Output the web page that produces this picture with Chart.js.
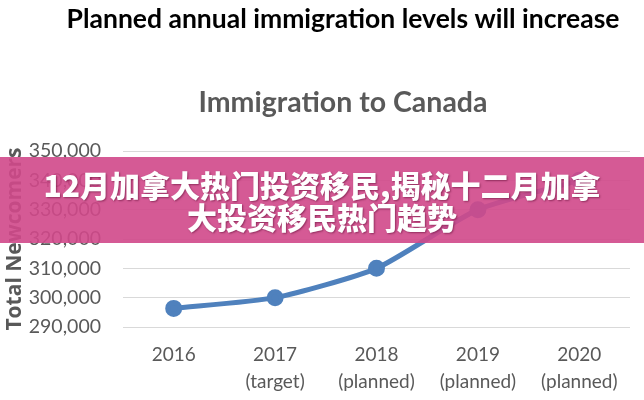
<!DOCTYPE html>
<html>
<head>
<meta charset="utf-8">
<script src="https://cdn.jsdelivr.net/npm/chart.js@4"></script>
<style>
  html, body { margin: 0; padding: 0; background: #fff; }
  #wrap { position: relative; width: 644px; height: 400px; overflow: hidden; }
  #banner {
    position: absolute; left: 0; top: 157px; width: 644px; height: 86px;
    background: rgba(208, 72, 138, 0.9);
    color: #fff; text-align: center;
    font-family: "Noto Sans CJK SC", sans-serif; font-weight: 900;
    font-size: 30px; line-height: 32px;
    box-sizing: border-box; padding-top: 11px;
    text-shadow: 1px 1px 2px rgba(80, 0, 40, 0.5);
  }
</style>
</head>
<body>
<div id="wrap">
  <canvas id="chart" width="644" height="400"></canvas>
  <div id="banner">12月加拿大热门投资移民,揭秘十二月加拿<br>大投资移民热门趋势</div>
</div>
<script>
var years = [['2016'], ['2017', '(target)'], ['2018', '(planned)'], ['2019', '(planned)'], ['2020', '(planned)']];
var newcomers = [296346, 300000, 310000, 330000, 340000];
var yMin = 290000, yMax = 350000, yStep = 10000;
var pageTitle = 'Planned annual immigration levels will increase';
var chartTitle = 'Immigration to Canada';

var grey = '#595959';

// the two headings sit a bit right of the canvas centre, as in the original slide
var headings = {
  id: 'headings',
  afterDraw: function (chart) {
    var c = chart.ctx;
    c.save();
    c.textAlign = 'center';
    c.textBaseline = 'middle';
    c.fillStyle = '#000';
    c.font = 'bold 26.5px Lato';
    c.fillText(pageTitle, 343, 19);
    c.fillStyle = grey;
    c.font = 'bold 28.5px Lato';
    c.fillText(chartTitle, 343, 103);
    c.restore();
  }
};

var ctx = document.getElementById('chart').getContext('2d');
var chart = new Chart(ctx, {
  type: 'line',
  data: {
    labels: years,
    datasets: [{
      label: 'Total Newcomers',
      data: newcomers,
      borderColor: '#4f81bd',
      backgroundColor: '#4f81bd',
      borderWidth: 5,
      pointRadius: 6,
      pointHoverRadius: 6,
      tension: 0.2
    }]
  },
  plugins: [headings],
  options: {
    responsive: false,
    animation: false,
    layout: { padding: { top: 151, right: 14, bottom: 0, left: 0 } },
    plugins: {
      legend: { display: false },
      tooltip: { enabled: false }
    },
    scales: {
      x: {
        offset: true,
        grid: { display: false, drawTicks: false },
        border: { display: false },
        ticks: {
          color: grey,
          font: { family: 'Lato', size: 19, lineHeight: 1.45 },
          padding: 14,
          maxRotation: 0
        },
        afterFit: function (scale) { scale.height = 73; }
      },
      y: {
        min: yMin,
        max: yMax,
        grid: { color: '#d9d9d9', lineWidth: 1, drawTicks: false },
        border: { display: false },
        ticks: {
          stepSize: yStep,
          color: grey,
          font: { family: 'Lato', size: 19.5 },
          padding: 22,
          callback: function (v) { return v.toLocaleString('en-US'); }
        },
        title: {
          display: true,
          text: 'Total Newcomers',
          color: grey,
          font: { family: 'Open Sans', size: 21, weight: 'bold' },
          padding: { top: 2, bottom: 0 }
        },
        afterFit: function (scale) { scale.width = 123; }
      }
    }
  }
});
</script>
</body>
</html>
